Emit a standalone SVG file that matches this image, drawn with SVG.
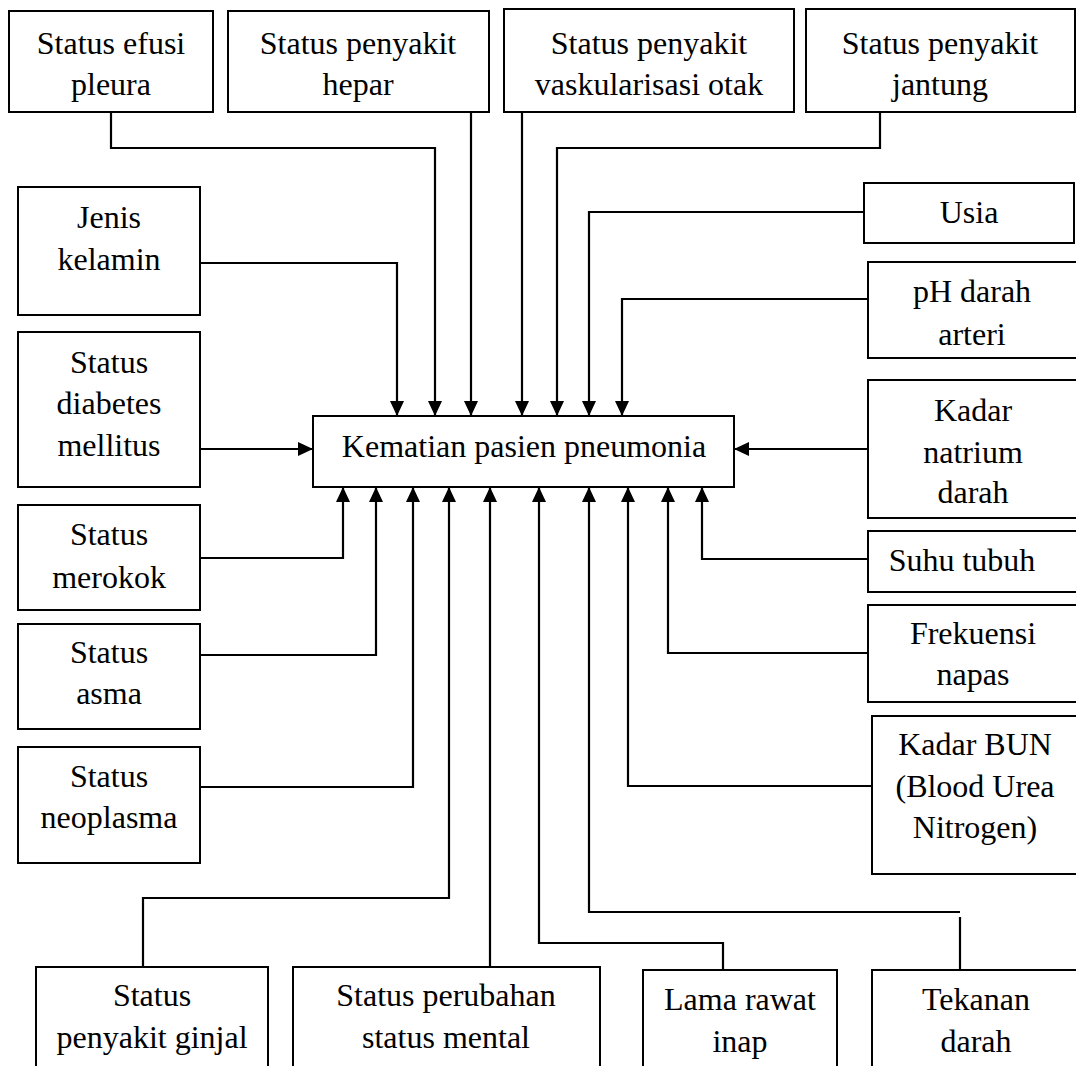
<svg xmlns="http://www.w3.org/2000/svg" width="1076" height="1066" viewBox="0 0 1076 1066">
<style>
.box{fill:#fff;stroke:#000;stroke-width:2}
.t{font-family:"Liberation Serif","Times New Roman",serif;font-size:32px;fill:#000;text-anchor:middle}
.c{fill:none;stroke:#000;stroke-width:2.2}
.a{marker-end:url(#ah)}
</style>
<defs>
<marker id="ah" markerUnits="userSpaceOnUse" markerWidth="16" markerHeight="16" viewBox="0 0 16 14" refX="15" refY="7" orient="auto">
<path d="M0,0 L15,7 L0,14 z" fill="#000"/>
</marker>
</defs>
<rect width="1076" height="1066" fill="#fff"/>
<g id="connectors">
<path class="c a" d="M111,112 V148 H435 V416"/>
<path class="c a" d="M471,112 V416"/>
<path class="c a" d="M522,112 V416"/>
<path class="c a" d="M880,112 V148 H557 V416"/>
<path class="c a" d="M864,212 H589 V416"/>
<path class="c a" d="M868,299 H622 V416"/>
<path class="c a" d="M200,263 H397 V416"/>
<path class="c a" d="M200,449 H313"/>
<path class="c a" d="M868,449 H734"/>
<path class="c a" d="M200,558 H343 V487"/>
<path class="c a" d="M200,655 H376 V487"/>
<path class="c a" d="M200,787 H413 V487"/>
<path class="c a" d="M143,967 V898 H449 V487"/>
<path class="c a" d="M490,967 V487"/>
<path class="c a" d="M723,970 V943 H539 V487"/>
<path class="c" d="M960,970 V917"/>
<path class="c a" d="M960,912 H589 V487"/>
<path class="c a" d="M868,559 H702 V487"/>
<path class="c a" d="M868,653 H668 V487"/>
<path class="c a" d="M872,786 H628 V487"/>
</g>
<g id="center"><rect class="box" x="313" y="416" width="421" height="71"/><text class="t" x="524" y="457">Kematian pasien pneumonia</text></g>
<g id="efusi"><rect class="box" x="9" y="11" width="204" height="101"/><text class="t" x="111" y="54">Status efusi</text><text class="t" x="111" y="95">pleura</text></g>
<g id="hepar"><rect class="box" x="228" y="11" width="261" height="101"/><text class="t" x="358" y="54">Status penyakit</text><text class="t" x="358" y="95">hepar</text></g>
<g id="vaskular"><rect class="box" x="504" y="9" width="290" height="103"/><text class="t" x="649" y="54">Status penyakit</text><text class="t" x="649" y="95">vaskularisasi otak</text></g>
<g id="jantung"><rect class="box" x="806" y="9" width="269" height="103"/><text class="t" x="940" y="54">Status penyakit</text><text class="t" x="940" y="95">jantung</text></g>
<g id="jenis"><rect class="box" x="18" y="187" width="182" height="128"/><text class="t" x="109" y="228">Jenis</text><text class="t" x="109" y="270">kelamin</text></g>
<g id="diabetes"><rect class="box" x="18" y="332" width="182" height="155"/><text class="t" x="109" y="373">Status</text><text class="t" x="109" y="414">diabetes</text><text class="t" x="109" y="456">mellitus</text></g>
<g id="merokok"><rect class="box" x="18" y="505" width="182" height="105"/><text class="t" x="109" y="545">Status</text><text class="t" x="109" y="588">merokok</text></g>
<g id="asma"><rect class="box" x="18" y="624" width="182" height="105"/><text class="t" x="109" y="663">Status</text><text class="t" x="109" y="704">asma</text></g>
<g id="neoplasma"><rect class="box" x="18" y="747" width="182" height="116"/><text class="t" x="109" y="787">Status</text><text class="t" x="109" y="828">neoplasma</text></g>
<g id="usia"><rect class="box" x="864" y="183" width="210" height="60"/><text class="t" x="969" y="223">Usia</text></g>
<g id="ph"><rect class="box" x="868" y="262" width="210" height="96"/><text class="t" x="972" y="302">pH darah</text><text class="t" x="972" y="345">arteri</text></g>
<g id="natrium"><rect class="box" x="868" y="380" width="210" height="138"/><text class="t" x="973" y="421">Kadar</text><text class="t" x="973" y="463">natrium</text><text class="t" x="973" y="503">darah</text></g>
<g id="suhu"><rect class="box" x="868" y="531" width="210" height="61"/><text class="t" x="962" y="571">Suhu tubuh</text></g>
<g id="frekuensi"><rect class="box" x="868" y="605" width="210" height="97"/><text class="t" x="973" y="644">Frekuensi</text><text class="t" x="973" y="685">napas</text></g>
<g id="bun"><rect class="box" x="872" y="716" width="206" height="158"/><text class="t" x="975" y="755">Kadar BUN</text><text class="t" x="975" y="797">(Blood Urea</text><text class="t" x="975" y="838">Nitrogen)</text></g>
<g id="ginjal"><rect class="box" x="36" y="967" width="232" height="120"/><text class="t" x="152" y="1006">Status</text><text class="t" x="152" y="1048">penyakit ginjal</text></g>
<g id="mental"><rect class="box" x="293" y="967" width="307" height="120"/><text class="t" x="446" y="1006">Status perubahan</text><text class="t" x="446" y="1048">status mental</text></g>
<g id="lama"><rect class="box" x="643" y="970" width="194" height="120"/><text class="t" x="740" y="1010">Lama rawat</text><text class="t" x="740" y="1052">inap</text></g>
<g id="tekanan"><rect class="box" x="872" y="970" width="206" height="120"/><text class="t" x="976" y="1010">Tekanan</text><text class="t" x="976" y="1052">darah</text></g>
</svg>
